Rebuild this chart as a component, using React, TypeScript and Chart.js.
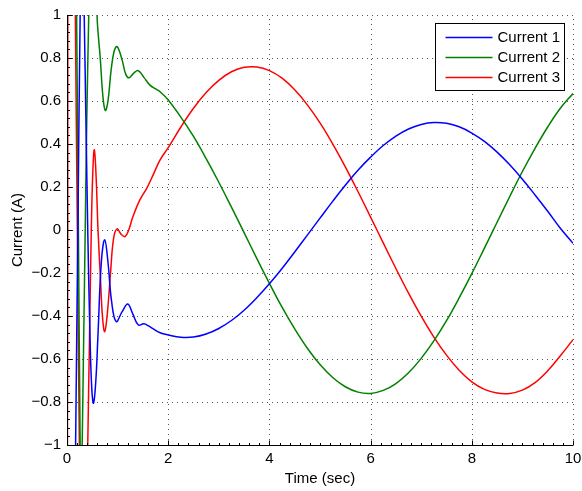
import React, { useEffect, useRef } from 'react';
import { Chart, registerables } from 'chart.js';
Chart.register(...registerables);

const FONT = 'Liberation Sans, Arial, Helvetica, sans-serif';

const xTicks = [0, 2, 4, 6, 8, 10];
const yTicks = [-1, -0.8, -0.6, -0.4, -0.2, 0, 0.2, 0.4, 0.6, 0.8, 1];
const seriesNames = ['Current 1', 'Current 2', 'Current 3'];
const seriesColors = ['#0000ff', '#008000', '#ff0000'];

const steadyT = [2.0, 2.25, 2.5, 2.75, 3.0, 3.25, 3.5, 3.75, 4.0, 4.25, 4.5, 4.75, 5.0, 5.25, 5.5, 5.75, 6.0, 6.25, 6.5, 6.75, 7.0, 7.25, 7.5, 7.75, 8.0, 8.25, 8.5, 8.75, 9.0, 9.25, 9.5, 9.75, 10.0];

// Current 1 (blue)
const c1T = [0, 0.08, 0.13, 0.17, 0.215, 0.26, 0.3, 0.34, 0.375, 0.41, 0.455, 0.49, 0.525, 0.57, 0.61, 0.68, 0.745, 0.81, 0.88, 0.97, 1.09, 1.2, 1.3, 1.41, 1.52, 1.61, 1.72, 1.84];
const c1V = [-2.0, -2.6, -2.0, -1.0, 0.0, 1.0, 1.5, 1.0, 0.5, 0.0, -0.5, -0.74, -0.805, -0.7, -0.5, -0.145, -0.045, -0.15, -0.33, -0.426, -0.38, -0.344, -0.39, -0.442, -0.436, -0.446, -0.462, -0.478];
const c1Steady = [-0.488, -0.499, -0.498, -0.484, -0.458, -0.421, -0.373, -0.315, -0.25, -0.179, -0.102, -0.024, 0.055, 0.133, 0.208, 0.278, 0.339, 0.393, 0.437, 0.47, 0.491, 0.5, 0.496, 0.48, 0.451, 0.412, 0.362, 0.303, 0.236, 0.163, 0.087, 0.008, -0.062];

// Current 2 (green)
const c2T = [0, 0.08, 0.15, 0.19, 0.225, 0.26, 0.28, 0.3, 0.33, 0.36, 0.39, 0.43, 0.5, 0.593, 0.66, 0.71, 0.757, 0.81, 0.87, 0.93, 0.99, 1.09, 1.16, 1.225, 1.32, 1.41, 1.52, 1.64, 1.76, 1.84];
const c2V = [2.5, 3.0, 2.0, 1.0, 0.0, -1.0, -1.3, -1.0, -0.5, 0.0, 0.5, 1.0, 1.8, 1.0, 0.79, 0.62, 0.556, 0.6, 0.74, 0.83, 0.853, 0.79, 0.725, 0.708, 0.73, 0.741, 0.71, 0.674, 0.655, 0.643];
const c2Steady = [0.605, 0.525, 0.435, 0.332, 0.222, 0.106, -0.012, -0.132, -0.248, -0.359, -0.46, -0.55, -0.626, -0.686, -0.729, -0.754, -0.76, -0.746, -0.714, -0.664, -0.597, -0.516, -0.422, -0.316, -0.203, -0.084, 0.036, 0.156, 0.272, 0.38, 0.479, 0.566, 0.635];

// Current 3 (red)
const c3T = [0, 0.015, 0.03, 0.09, 0.14, 0.165, 0.205, 0.245, 0.3, 0.36, 0.41, 0.445, 0.48, 0.51, 0.54, 0.575, 0.613, 0.66, 0.7, 0.745, 0.8, 0.86, 0.92, 0.99, 1.07, 1.146, 1.22, 1.3, 1.44, 1.575, 1.7, 1.84];
const c3V = [-2.5, 0.0, 2.5, 3.2, 2.0, 1.0, 0.0, -1.0, -1.7, -1.8, -1.0, -0.5, 0.0, 0.27, 0.373, 0.25, 0.0, -0.22, -0.4, -0.473, -0.38, -0.2, -0.04, 0.005, -0.02, -0.031, 0.0, 0.06, 0.14, 0.194, 0.255, 0.326];
const c3Steady = [0.383, 0.479, 0.566, 0.639, 0.696, 0.736, 0.757, 0.758, 0.741, 0.706, 0.652, 0.582, 0.498, 0.401, 0.294, 0.179, 0.06, -0.06, -0.179, -0.294, -0.401, -0.498, -0.582, -0.652, -0.706, -0.741, -0.758, -0.76, -0.745, -0.71, -0.655, -0.585, -0.51];

function toPoints(t: number[], v: number[], st: number[], sv: number[]) {
  const pts = t.map((x, i) => ({ x, y: v[i] }));
  return pts.concat(st.map((x, i) => ({ x, y: sv[i] })));
}

function fmt(v: number) {
  const r = Math.round(v * 10) / 10;
  const s = String(Math.abs(r));
  return r < 0 ? '\u2212' + s : s;
}

const framePlugin = {
  id: 'framePlugin',
  beforeDatasetsDraw(chart: any) {
    const { ctx, chartArea: a, scales } = chart;
    const x = scales.x, y = scales.y;
    ctx.save();
    ctx.strokeStyle = '#555';
    ctx.lineWidth = 1;
    ctx.setLineDash([1, 4]);
    xTicks.forEach((v) => {
      const px = Math.round(x.getPixelForValue(v)) + 0.5;
      ctx.beginPath(); ctx.moveTo(px, a.bottom); ctx.lineTo(px, a.top); ctx.stroke();
    });
    yTicks.forEach((v) => {
      const py = Math.round(y.getPixelForValue(v)) + 0.5;
      ctx.beginPath(); ctx.moveTo(a.left, py); ctx.lineTo(a.right, py); ctx.stroke();
    });
    ctx.restore();
  },
  afterDatasetsDraw(chart: any) {
    const { ctx, chartArea: a, scales } = chart;
    const x = scales.x, y = scales.y;
    ctx.save();
    ctx.strokeStyle = '#000';
    ctx.lineWidth = 1;
    ctx.setLineDash([]);
    const left = Math.round(a.left) + 0.5;
    const bottom = Math.round(a.bottom) + 0.5;
    ctx.beginPath();
    ctx.moveTo(left, a.top);
    ctx.lineTo(left, bottom);
    ctx.lineTo(a.right, bottom);
    ctx.stroke();
    for (let i = 0; i <= 50; i++) {
      const v = i * 0.2;
      const px = Math.round(x.getPixelForValue(v)) + 0.5;
      const len = i % 10 === 0 ? 5 : 2.5;
      ctx.beginPath(); ctx.moveTo(px, bottom); ctx.lineTo(px, bottom - len); ctx.stroke();
    }
    for (let i = 0; i <= 50; i++) {
      const v = -1 + i * 0.04;
      const py = Math.round(y.getPixelForValue(v)) + 0.5;
      const len = i % 5 === 0 ? 5 : 2.5;
      ctx.beginPath(); ctx.moveTo(left, py); ctx.lineTo(left + len, py); ctx.stroke();
    }
    ctx.restore();
  },
  afterDraw(chart: any) {
    const { ctx, chartArea: a } = chart;
    const bx = Math.round(a.right - 138) + 0.5;
    const by = Math.round(a.top + 8) + 0.5;
    const bw = 129, bh = 67;
    ctx.save();
    ctx.fillStyle = '#fff';
    ctx.fillRect(bx, by, bw, bh);
    ctx.strokeStyle = '#000';
    ctx.lineWidth = 1;
    ctx.strokeRect(bx, by, bw, bh);
    ctx.font = '15px ' + FONT;
    ctx.textBaseline = 'middle';
    ctx.textAlign = 'left';
    seriesNames.forEach((name, i) => {
      const ly = by + 14 + i * 20;
      ctx.strokeStyle = seriesColors[i];
      ctx.lineWidth = 1.5;
      ctx.beginPath(); ctx.moveTo(bx + 10, ly); ctx.lineTo(bx + 57, ly); ctx.stroke();
      ctx.fillStyle = '#000';
      ctx.fillText(name, bx + 62, ly + 0.5);
    });
    ctx.restore();
  },
};

export default function App() {
  const ref = useRef<HTMLCanvasElement | null>(null);
  useEffect(() => {
    if (!ref.current) return;
    const series = [
      toPoints(c1T, c1V, steadyT, c1Steady),
      toPoints(c2T, c2V, steadyT, c2Steady),
      toPoints(c3T, c3V, steadyT, c3Steady),
    ];
    const chart = new Chart(ref.current, {
      type: 'line',
      data: {
        datasets: series.map((d, i) => ({
          label: seriesNames[i],
          data: d,
          borderColor: seriesColors[i],
          backgroundColor: seriesColors[i],
          borderWidth: 1.5,
          pointRadius: 0,
          fill: false,
          tension: 0.4,
        })),
      },
      options: {
        animation: false,
        responsive: false,
        devicePixelRatio: 1,
        layout: { padding: { top: 15, right: 9, bottom: 0, left: 0 } },
        plugins: { legend: { display: false }, tooltip: { enabled: false } },
        scales: {
          x: {
            type: 'linear',
            min: 0,
            max: 10,
            grid: { display: false, drawTicks: false },
            border: { display: false },
            ticks: {
              stepSize: 2,
              padding: 5,
              color: '#000',
              font: { family: FONT, size: 15 },
              callback: (v: any) => fmt(Number(v)),
              maxRotation: 0,
              autoSkip: false,
            },
            title: {
              display: true,
              text: 'Time (sec)',
              color: '#000',
              font: { family: FONT, size: 15 },
              padding: { top: 0, bottom: 3 },
            },
            afterFit: (s: any) => { s.height = 46; s.paddingLeft = 0; s.paddingRight = 0; },
          },
          y: {
            type: 'linear',
            min: -1,
            max: 1,
            grid: { display: false, drawTicks: false },
            border: { display: false },
            ticks: {
              stepSize: 0.2,
              padding: 6,
              color: '#000',
              font: { family: FONT, size: 15 },
              callback: (v: any) => fmt(Number(v)),
              autoSkip: false,
            },
            title: {
              display: true,
              text: 'Current (A)',
              color: '#000',
              font: { family: FONT, size: 15 },
              padding: { top: 8.5, bottom: 0 },
            },
            afterFit: (s: any) => { s.width = 67; s.paddingTop = 0; s.paddingBottom = 0; },
          },
        },
      },
      plugins: [framePlugin],
    } as any);
    return () => chart.destroy();
  }, []);
  return (
    <div style={{ position: 'absolute', left: 0, top: 0, width: 582, height: 491, background: '#fff' }}>
      <canvas ref={ref} width={582} height={491} style={{ width: 582, height: 491, display: 'block' }} />
    </div>
  );
}
